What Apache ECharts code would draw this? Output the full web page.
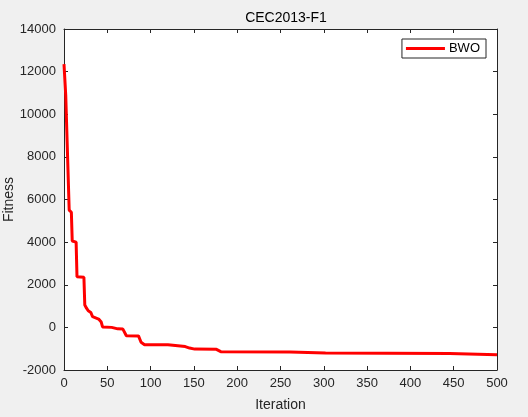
<!DOCTYPE html>
<html>
<head>
<meta charset="utf-8">
<script src="https://cdn.jsdelivr.net/npm/echarts@6/dist/echarts.min.js"></script>
<style>
  html, body { margin: 0; padding: 0; background: #f0f0f0; }
  #main { width: 528px; height: 417px; }
</style>
</head>
<body>
<div id="main"></div>
<script>
// convergence curve (breakpoints of the step curve)
var iterations = [0, 2, 3.5, 6, 8.5, 9.5, 14, 15, 23, 24, 26, 28, 31, 33, 35, 40, 43, 44.5, 55, 62, 68, 72, 86, 89, 93, 120, 122, 140, 145, 151, 176, 181, 261, 262, 302, 303, 445, 446, 500];
var fitness = [12350, 10900, 10850, 5500, 5400, 4050, 4000, 2380, 2350, 1050, 900, 780, 700, 500, 450, 390, 250, 20, 0, -70, -80, -390, -400, -700, -810, -815, -890, -900, -970, -1020, -1030, -1140, -1150, -1190, -1200, -1220, -1230, -1290, -1290];
var xTicks = { min: 0, max: 500, interval: 50 };
var yTicks = { min: -2000, max: 14000, interval: 2000 };

var ink = '#262626';
var font = 'Liberation Sans, Arial, sans-serif';

var chart = echarts.init(document.getElementById('main'));

var seriesData = iterations.map(function (it, i) { return [it, fitness[i]]; });

function plain(v) { return String(v); }

function axisBase(extra) {
  var base = {
    type: 'value',
    axisLine: { show: true, onZero: false, lineStyle: { color: ink, width: 1 } },
    axisTick: { show: true, inside: true, length: 4, lineStyle: { color: ink } },
    splitLine: { show: false },
    axisLabel: { color: ink, fontSize: 13, fontFamily: font, formatter: plain }
  };
  return Object.assign(base, extra);
}

chart.setOption({
  backgroundColor: '#f0f0f0',
  animation: false,
  title: {
    text: 'CEC2013-F1',
    left: 281,
    textAlign: 'center',
    top: 6,
    textStyle: { color: '#000', fontSize: 14, fontWeight: 'normal', fontFamily: font }
  },
  legend: {
    data: ['BWO'],
    right: 42,
    top: 39,
    icon: 'rect',
    itemWidth: 39,
    itemHeight: 3,
    itemGap: 4,
    padding: [3, 6, 3, 4],
    backgroundColor: '#fff',
    borderColor: ink,
    borderWidth: 1,
    textStyle: { color: '#000', fontSize: 13, fontFamily: font, padding: [0, 0, 0, -1] }
  },
  grid: {
    left: 64,
    right: 31,
    top: 29,
    bottom: 47,
    containLabel: false,
    outerBoundsMode: 'none',
    show: true,
    backgroundColor: '#fff',
    borderWidth: 0
  },
  xAxis: [
    axisBase({
      min: xTicks.min, max: xTicks.max, interval: xTicks.interval,
      name: 'Iteration',
      nameLocation: 'middle',
      nameGap: 28,
      nameMoveOverlap: false,
      nameTextStyle: { color: ink, fontSize: 14, fontFamily: font },
      axisLabel: { color: ink, fontSize: 13, fontFamily: font, margin: 7, formatter: plain }
    }),
    axisBase({
      position: 'top',
      min: xTicks.min, max: xTicks.max, interval: xTicks.interval,
      axisLabel: { show: false }
    })
  ],
  yAxis: [
    axisBase({
      min: yTicks.min, max: yTicks.max, interval: yTicks.interval,
      name: 'Fitness',
      nameLocation: 'middle',
      nameGap: 48,
      nameMoveOverlap: false,
      nameTextStyle: { color: ink, fontSize: 14, fontFamily: font },
      axisLabel: { color: ink, fontSize: 13, fontFamily: font, margin: 8, formatter: plain }
    }),
    axisBase({
      position: 'right',
      min: yTicks.min, max: yTicks.max, interval: yTicks.interval,
      axisLabel: { show: false }
    })
  ],
  series: [
    {
      name: 'BWO',
      type: 'line',
      xAxisIndex: 0,
      yAxisIndex: 0,
      data: seriesData,
      showSymbol: false,
      symbol: 'none',
      color: '#ff0000',
      lineStyle: { color: '#ff0000', width: 3 }
    }
  ]
});
</script>
</body>
</html>
